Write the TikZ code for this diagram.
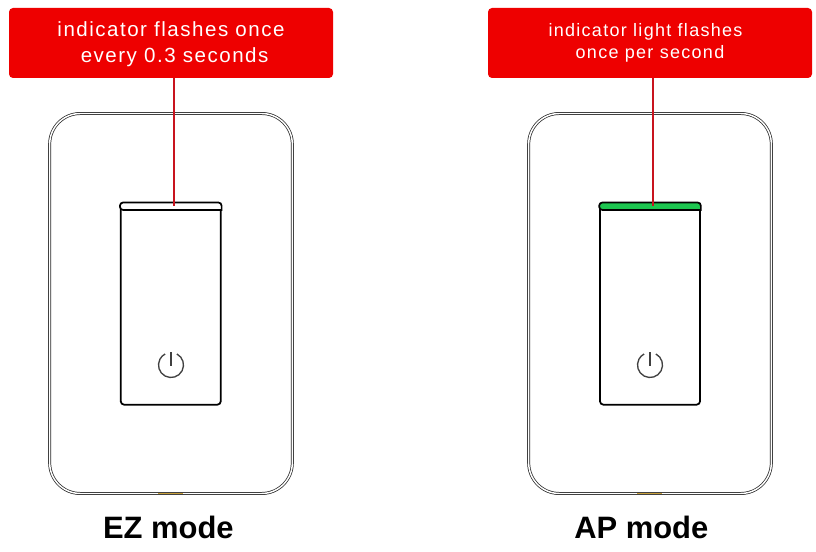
\documentclass[tikz,border=0pt]{standalone}
\usepackage{fontspec}
\setmainfont{Liberation Sans}
\usetikzlibrary{positioning}
\definecolor{labelred}{HTML}{EE0000}
\definecolor{leaderred}{HTML}{C8141E}
\definecolor{lightgreen}{HTML}{1DC650}
\definecolor{edgemark}{HTML}{C8A03C}
\tikzset{
  label box/.style={fill=labelred, rounded corners=3pt, minimum width=243pt, minimum height=52.5pt, text=white, align=center},
  plate/.style={draw=black!85, line width=.55pt, double=white, double distance=1.1pt, rounded corners=23pt, minimum width=182pt, minimum height=285pt},
  rocker/.style={draw=black, line width=1.3pt, rounded corners=2.5pt, minimum width=75pt, minimum height=151pt},
  mode label/.style={font=\fontsize{23.2}{26}\selectfont\bfseries},
  leader/.style={draw=leaderred, line width=1.2pt},
  power/.style={draw=black!75, line width=1pt}
}
\begin{document}
\begin{tikzpicture}[x=.75pt, y=.75pt]
\useasboundingbox (0,0) rectangle (816,552);
% EZ side
\node [plate] (plateEZ) at (171,248.5) {};
\node [rocker] (rockerEZ) at (170.75,248) {};
\node [label box, font=\fontsize{15.4}{18.8}\selectfont\addfontfeature{LetterSpace=7.3}] (boxEZ) at (171,509) {\rule{0pt}{13pt}indicator flashes once\\ \ every 0.3 seconds};
\node [mode label, xshift=-2pt] (modeEZ) [below=13pt of plateEZ] {EZ mode};
\coordinate (lightEZ) at (174,346);
\coordinate (iconEZ) at (171,187);
% AP side
\node [plate] (plateAP) at (650,248.5) {};
\node [rocker] (rockerAP) at (650,248) {};
\node [label box, font=\fontsize{13.5}{16.5}\selectfont\addfontfeature{LetterSpace=7.2}] (boxAP) at (650,509) {indicator light flashes\kern6.75pt\\once per second};
\node [mode label, xshift=-6.5pt] (modeAP) [below=13pt of plateAP] {AP mode};
\coordinate (lightAP) at (653,346);
\coordinate (iconAP) at (650,187);
% light strips
\draw [line width=1.3pt, fill=white, rounded corners=2.5pt] (rockerEZ.west |- 0,342) [sharp corners] -- (rockerEZ.east |- 0,342) [rounded corners=2.5pt] -- (rockerEZ.north east) -- (rockerEZ.north west) -- cycle;
\draw [line width=1.3pt, fill=lightgreen, rounded corners=2.5pt] (rockerAP.west |- 0,342) [sharp corners] -- (rockerAP.east |- 0,342) [rounded corners=2.5pt] -- (rockerAP.north east) -- (rockerAP.north west) -- cycle;
% leaders
\draw [leader] (boxEZ.south -| lightEZ) -- (lightEZ);
\draw [leader] (boxAP.south -| lightAP) -- (lightAP);
% power icons
\draw [power] ([shift={(62:12.5)}]iconEZ) arc (62:-242:12.5);
\draw [power] ([yshift=9.5pt]iconEZ) -- ([yshift=-.5pt]iconEZ);
\draw [power] ([shift={(62:12.5)}]iconAP) arc (62:-242:12.5);
\draw [power] ([yshift=9.5pt]iconAP) -- ([yshift=-.5pt]iconAP);
% marks on the lower edge
\draw [edgemark, line width=.7pt] ([xshift=-9.5pt]plateEZ.south) -- ([xshift=9pt]plateEZ.south);
\draw [edgemark, line width=.7pt] ([xshift=-9.5pt]plateAP.south) -- ([xshift=9pt]plateAP.south);
\end{tikzpicture}
\end{document}
